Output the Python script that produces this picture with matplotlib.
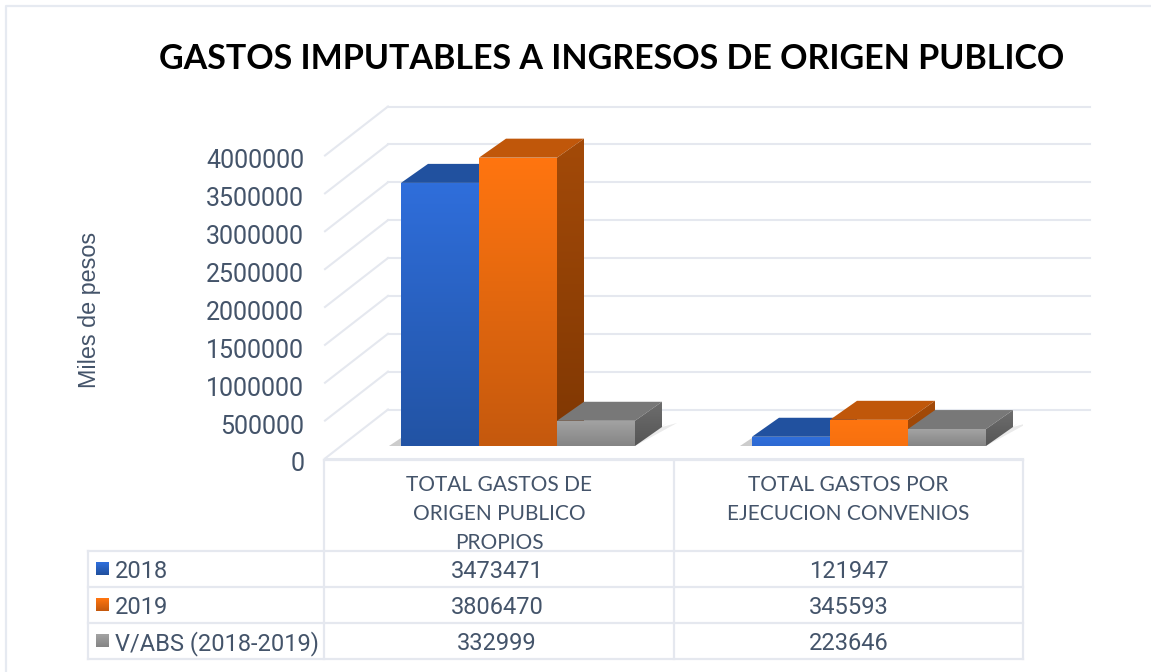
#!/usr/bin/env python3
"""3D-look column chart with data table, gastos de origen publico."""
import numpy as np
import matplotlib
matplotlib.use("Agg")
import matplotlib.pyplot as plt
from matplotlib.colors import LinearSegmentedColormap
from matplotlib.patches import Polygon
from matplotlib.transforms import ScaledTranslation

categories = ["TOTAL GASTOS DE\nORIGEN PUBLICO\nPROPIOS", "TOTAL GASTOS POR\nEJECUCION CONVENIOS"]
series_names = ["2018", "2019", "V/ABS (2018-2019)"]
values_2018 = [3473471, 121947]
values_2019 = [3806470, 345593]
values_abs = [332999, 223646]
y_ticks = [0, 500000, 1000000, 1500000, 2000000, 2500000, 3000000, 3500000, 4000000]

W, H = 1151, 672
TXT = "#44546A"
LINE = "#E5E8EF"

# top, bottom, side top, side bottom, lid
palette = [
    ("#2F6EDB", "#21519F", "#1C4488", "#163870", "#21519F"),
    ("#FF7510", "#C5590D", "#A34A08", "#7F3703", "#C0570A"),
    ("#A3A3A3", "#858585", "#6E6E6E", "#555555", "#787878"),
]

# plot geometry in pixels
CAT_PX = 349.0
VAL_PX = 303.0 / 4000000
BAR_PX = 78.0


def px_x(px):
    return px / CAT_PX


def px_y(px):
    return px / VAL_PX


def grad_poly(ax, pts, top, bottom, z):
    pts = np.array(pts)
    cmap = LinearSegmentedColormap.from_list("g", [bottom, top])
    ext = [pts[:, 0].min(), pts[:, 0].max(), pts[:, 1].min(), pts[:, 1].max()]
    im = ax.imshow(np.linspace(1, 0, 64).reshape(-1, 1), cmap=cmap, extent=ext, aspect="auto",
                   vmin=0, vmax=1, zorder=z, interpolation="bilinear")
    # columns may rise above the front plane, so clip only to the polygon
    im.set_clip_box(ax.figure.bbox)
    im.set_clip_path(Polygon(pts, transform=ax.transData))


def mix(c1, c2, t):
    a = np.array(matplotlib.colors.to_rgb(c1))
    b = np.array(matplotlib.colors.to_rgb(c2))
    return tuple(a + (b - a) * t)


fig = plt.figure(figsize=(W / 100, H / 100), dpi=100, facecolor="white")

# page layer for frame, title and table, in pixels
pg = fig.add_axes([0, 0, 1, 1], zorder=0)
pg.set_xlim(0, W)
pg.set_ylim(H, 0)
pg.axis("off")
pg.plot([6, 6, W], [H, 5.5, 5.5], color="#E6EAF1", lw=1.6)

pg.text(612, 59, "GASTOS IMPUTABLES A INGRESOS DE ORIGEN PUBLICO", ha="center", va="center",
        fontsize=24.5, fontweight="bold", color="black", family="Lato")
pg.text(90, 310, "Miles de pesos", rotation=90, ha="center", va="center", fontsize=16.8,
        color=TXT, family="Liberation Sans")

col_x = [324, 674, 1023]
col_mid = [497, 849]
row_y = [551, 587, 623, 659]
for y in row_y:
    pg.plot([88, col_x[-1]], [y, y], color=LINE, lw=1.6, solid_capstyle="projecting")
pg.plot([col_x[0], col_x[-1]], [460, 460], color=LINE, lw=1.6)
pg.plot([88, 88], [row_y[0], row_y[-1]], color=LINE, lw=1.6)
for x in col_x:
    pg.plot([x, x], [460, row_y[-1]], color=LINE, lw=1.6)

rows = [values_2018, values_2019, values_abs]
key_y = [569, 605, 641]
for i, name in enumerate(series_names):
    cmap = LinearSegmentedColormap.from_list("k", [palette[i][1], palette[i][0]])
    pg.imshow(np.linspace(1, 0, 16).reshape(-1, 1), cmap=cmap, vmin=0, vmax=1, aspect="auto",
              extent=[96, 109, key_y[i] + 6.5, key_y[i] - 6.5], zorder=3)
    pg.text(115, key_y[i] + 2.5, name, ha="left", va="center", fontsize=17, color=TXT, family="Roboto")
    for j, v in enumerate(rows[i]):
        pg.text(col_mid[j], key_y[i] + 2.5, str(v), ha="center", va="center",
                fontsize=17, color=TXT, family="Roboto")
pg.set_xlim(0, W)
pg.set_ylim(H, 0)

# front plane of the chart: value 0 at y=458.5, 4000000 at y=155.5
ax = fig.add_axes([325 / W, 1 - 458.5 / H, 698 / W, 303 / H], zorder=1)
ax.patch.set_alpha(0)
for s in ax.spines.values():
    s.set_visible(False)
ax.set_xticks(range(len(categories)))
ax.set_xticklabels(categories, family="Lato", fontsize=15, color=TXT, linespacing=1.55)
ax.set_yticks(y_ticks)
ax.set_yticklabels([str(t) for t in y_ticks], family="Roboto", fontsize=18, color=TXT)
ax.tick_params(axis="y", length=0, pad=15)
ax.tick_params(axis="x", length=0, pad=12)
shift = ScaledTranslation(0, -2.5 / 72, fig.dpi_scale_trans)
for lbl in ax.get_yticklabels():
    lbl.set_transform(lbl.get_transform() + shift)

# back wall and side wall grid
wall_dx, wall_dy = px_x(63), px_y(49)
for t in y_ticks:
    ax.plot([-0.5, -0.5 + wall_dx], [t, t + wall_dy], color=LINE, lw=1.5, zorder=1, clip_on=False)
    ax.plot([-0.5 + wall_dx, -0.5 + px_x(765)], [t + wall_dy, t + wall_dy], color=LINE, lw=1.5,
            zorder=1, clip_on=False)
ax.plot([-0.5, 1.5], [0, 0], color=LINE, lw=1.5, zorder=1, clip_on=False)

# columns
off_y = px_y(12.5)
dep_x, dep_y = px_x(27), px_y(19)
bw = px_x(BAR_PX)
for g in range(len(categories)):
    off_x = px_x(18.5 + 2 * g)
    left = g - 1.5 * bw + off_x
    right = left + 3 * bw
    # floor shadows either side of the group
    for a in (0.10, 0.16):
        reach = 42 if a < 0.15 else 32
        ax.add_patch(Polygon([(right, off_y), (right + px_x(reach), off_y + px_y(23)),
                              (right + dep_x, off_y + dep_y)],
                             closed=True, fc="#333333", ec="none", alpha=a, zorder=2))
        ax.add_patch(Polygon([(left - px_x(12), off_y), (left, off_y), (left, off_y + px_y(8))],
                             closed=True, fc="#333333", ec="none", alpha=a, zorder=2))
    for i, vals in enumerate(rows):
        v = vals[g]
        x0 = left + i * bw
        x1 = x0 + bw
        y0, y1 = off_y, off_y + v
        top, bot, s_top, s_bot, lid = palette[i]
        t = 1.0 if i == 2 else max(0.15, v / max(values_2019))
        z = 3 + i
        ax.add_patch(Polygon([(x0, y1), (x1, y1), (x1 + dep_x, y1 + dep_y), (x0 + dep_x, y1 + dep_y)],
                             closed=True, fc=lid, ec="none", zorder=z, clip_on=False))
        grad_poly(ax, [(x1, y0), (x1 + dep_x, y0 + dep_y), (x1 + dep_x, y1 + dep_y), (x1, y1)],
                  s_top, mix(s_top, s_bot, t), z)
        grad_poly(ax, [(x0, y0), (x1, y0), (x1, y1), (x0, y1)], top, mix(top, bot, t), z + 0.5)

ax.set_xlim(-0.5, 1.5)
ax.set_ylim(0, 4000000)

fig.savefig("out.png", dpi=100, facecolor="white")
plt.close(fig)
